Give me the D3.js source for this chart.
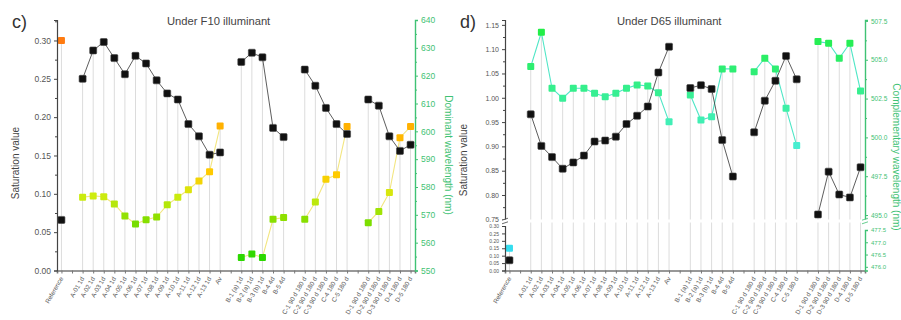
<!DOCTYPE html>
<html>
<head>
<meta charset="utf-8">
<script src="https://cdn.jsdelivr.net/npm/d3@7"></script>
<style>
  body { margin: 0; background: #fff; }
  svg { display: block; font-family: Arial, "Liberation Sans", sans-serif; }
</style>
</head>
<body>
<svg id="chart" width="901" height="320"></svg>
<script>
// Sample slots along the x axis ("" marks a spacer between sample groups)
const categories = [
  "Reference", "",
  "A-01 1d", "A-02 1d", "A-03 1d", "A-04 1d", "A-05 1d", "A-06 1d", "A-07 1d", "A-08 1d",
  "A-09 1d", "A-10 1d", "A-11 1d", "A-12 1d", "A-13 1d", "Av",
  "",
  "B-1 (a) 1d", "B-2 (a) 1d", "B-3 (b) 1d", "B-4 4d", "B-5 4d",
  "",
  "C-1 90 d 180 d", "C-2 90 d 180 d", "C-3 90 d 180 d", "C-4 180 d", "C-5 180 d",
  "",
  "D-1 90 d 180 d", "D-2 90 d 180 d", "D-3 90 d 180 d", "D-4 180 d", "D-5 180 d"
];

// Panel c – F10 illuminant
const satF10 = [0.066, null,
  0.250, 0.287, 0.298, 0.277, 0.256, 0.280, 0.270, 0.248, 0.231, 0.223, 0.191, 0.175, 0.151, 0.154,
  null, 0.272, 0.284, 0.278, 0.186, 0.174,
  null, 0.262, 0.241, 0.212, 0.191, 0.178,
  null, 0.223, 0.215, 0.175, 0.156, 0.164];
const wlF10 = [632.6, null,
  576.3, 576.8, 576.5, 573.9, 569.6, 566.7, 568.2, 569.2, 573.6, 576.3, 579.0, 582.2, 585.5, 601.9,
  null, 554.7, 555.9, 554.7, 568.4, 569.0,
  null, 568.4, 574.6, 582.8, 584.4, 601.7,
  null, 567.2, 571.2, 578.0, 597.7, 601.7];

// Panel d – D65 illuminant
const satD65 = [0.069, null,
  0.966, 0.901, 0.878, 0.854, 0.867, 0.881, 0.910, 0.912, 0.920, 0.946, 0.963, 0.982, 1.052, 1.105,
  null, 1.020, 1.026, 1.018, 0.913, 0.838,
  null, 0.929, 0.994, 1.035, 1.086, 1.038,
  null, 0.760, 0.848, 0.801, 0.795, 0.857];
const wlD65 = [476.76, null,
  504.56, 506.77, 503.16, 502.52, 503.16, 503.16, 502.84, 502.62, 502.84, 503.16, 503.38, 503.31, 502.88, 501.0,
  null, 502.73, 501.12, 501.33, 504.41, 504.41,
  null, 504.23, 505.10, 504.41, 501.87, 499.47,
  null, 506.17, 506.06, 505.10, 506.06, 502.99];

// Axis tick values
const satTicksF10 = [0.00, 0.05, 0.10, 0.15, 0.20, 0.25, 0.30];
const wlTicksF10 = [550, 560, 570, 580, 590, 600, 610, 620, 630, 640];
const satTicksD65Upper = [0.75, 0.80, 0.85, 0.90, 0.95, 1.00, 1.05, 1.10, 1.15];
const satTicksD65Lower = [0.00, 0.05, 0.10, 0.15, 0.20, 0.25, 0.30];
const wlTicksD65Upper = [495.0, 497.5, 500.0, 502.5, 505.0, 507.5];
const wlTicksD65Lower = [476.0, 476.5, 477.0, 477.5];

const svg = d3.select("#chart");
const GREEN = "#3fc274";
const TOP = 20, BOTTOM = 270.5;
const idx = d3.range(categories.length);

// Hue of each wavelength marker
const colF10 = d3.scaleLinear()
  .domain([552, 562, 569, 577, 584, 600, 632])
  .range(["#22d800", "#48d800", "#8ee000", "#d0ec10", "#ffcc00", "#ffb400", "#ff7c10"]);
const colD65 = d3.scaleLinear()
  .domain([476, 499.5, 502, 504, 507])
  .range(["#34dcf0", "#48eed0", "#3cf0a4", "#30ee7a", "#22ee44"]);

function panel(opt) {
  const g = svg.append("g");
  const x = d3.scalePoint().domain(idx).range([opt.x0, opt.x1]).padding(0.42);

  // drop lines from the highest marker down to the axis
  idx.forEach(i => {
    if (opt.sat[i] == null) return;
    const yTop = Math.min(opt.ySat(opt.sat[i]), opt.yWl(opt.wl[i]));
    g.append("line").attr("x1", x(i)).attr("x2", x(i))
      .attr("y1", yTop).attr("y2", BOTTOM)
      .attr("stroke", "#dcdcdc").attr("stroke-width", 1);
  });

  // axis break band
  if (opt.breakY) {
    g.append("rect").attr("x", opt.x0).attr("y", opt.breakY - 1.5)
      .attr("width", opt.x1 - opt.x0).attr("height", 3).attr("fill", "#fff");
  }

  // connecting lines
  const lineSat = d3.line().defined((d, i) => d != null && i > 1)
    .x((d, i) => x(i)).y(d => opt.ySat(d));
  const lineWl = d3.line().defined((d, i) => d != null && i > 1)
    .x((d, i) => x(i)).y(d => opt.yWl(d));
  g.append("path").attr("d", lineWl(opt.wl)).attr("fill", "none")
    .attr("stroke", opt.wlLine).attr("stroke-width", 1.1);
  g.append("path").attr("d", lineSat(opt.sat)).attr("fill", "none")
    .attr("stroke", "#333").attr("stroke-width", 0.8);

  // markers
  const s = 7;
  idx.forEach(i => {
    if (opt.wl[i] != null) {
      g.append("rect").attr("x", x(i) - s / 2).attr("y", opt.yWl(opt.wl[i]) - s / 2)
        .attr("width", s).attr("height", s).attr("rx", 1)
        .attr("fill", opt.col(opt.wl[i]));
    }
    if (opt.sat[i] != null) {
      g.append("rect").attr("x", x(i) - s / 2).attr("y", opt.ySat(opt.sat[i]) - s / 2)
        .attr("width", s).attr("height", s).attr("rx", 1)
        .attr("fill", "#111").attr("stroke", "#444").attr("stroke-width", 0.6);
    }
  });

  // bottom axis
  const xa = g.append("g").attr("transform", `translate(0,${BOTTOM})`)
    .call(d3.axisBottom(x).tickSize(3).tickFormat(""));
  xa.select(".domain").attr("stroke", "#777").attr("stroke-width", 1.6);
  xa.selectAll(".tick line").attr("stroke", "#777");
  g.selectAll(".xlab").data(idx).enter().append("text")
    .attr("transform", i => `translate(${x(i) + 2},${BOTTOM + 8}) rotate(-60)`)
    .attr("text-anchor", "end").attr("font-size", 6.4).attr("fill", "#555")
    .text(i => categories[i]);

  // left + right axes (segments)
  opt.leftAxes.forEach(a => {
    const ag = g.append("g").attr("transform", `translate(${opt.x0},0)`)
      .call(d3.axisLeft(a.scale).tickValues(a.ticks).tickSize(3)
        .tickFormat(d3.format(a.fmt)));
    ag.select(".domain").attr("stroke", "#444").attr("stroke-width", 1.2);
    ag.selectAll(".tick line").attr("stroke", "#444");
    ag.selectAll("text").attr("font-size", a.fs).attr("fill", "#555")
      .attr("font-family", "Arial, 'Liberation Sans', sans-serif");
    if (a.minor) {
      g.append("g").attr("transform", `translate(${opt.x0},0)`)
        .call(d3.axisLeft(a.scale).tickValues(a.minor).tickSize(2).tickFormat(""))
        .call(m => { m.select(".domain").remove(); m.selectAll("line").attr("stroke", "#444"); });
    }
  });
  opt.rightAxes.forEach(a => {
    const ag = g.append("g").attr("transform", `translate(${opt.x1},0)`)
      .call(d3.axisRight(a.scale).tickValues(a.ticks).tickSize(3)
        .tickFormat(d3.format(a.fmt)));
    ag.select(".domain").attr("stroke", GREEN).attr("stroke-width", 1.4);
    ag.selectAll(".tick line").attr("stroke", GREEN);
    ag.selectAll("text").attr("font-size", a.fs).attr("fill", GREEN)
      .attr("font-family", "Arial, 'Liberation Sans', sans-serif");
    if (a.minor) {
      g.append("g").attr("transform", `translate(${opt.x1},0)`)
        .call(d3.axisRight(a.scale).tickValues(a.minor).tickSize(2).tickFormat(""))
        .call(m => { m.select(".domain").remove(); m.selectAll("line").attr("stroke", GREEN); });
    }
  });

  // break marks on the vertical axes
  if (opt.breakY) {
    [[opt.x0, "#444"], [opt.x1, GREEN]].forEach(([bx, c]) => {
      g.append("rect").attr("x", bx - 3).attr("y", opt.breakY - 1.5).attr("width", 6).attr("height", 3).attr("fill", "#fff");
      [-1.8, 1.8].forEach(dy => g.append("line")
        .attr("x1", bx - 3).attr("x2", bx + 3)
        .attr("y1", opt.breakY + dy + 1).attr("y2", opt.breakY + dy - 1)
        .attr("stroke", c).attr("stroke-width", 0.8));
    });
  }

  // titles
  g.append("text").attr("x", opt.x0 - 45).attr("y", 28).attr("font-size", 18)
    .attr("fill", "#333").text(opt.tag);
  g.append("text").attr("x", opt.titleX).attr("y", 25).attr("font-size", 11.2)
    .attr("fill", "#444").text(opt.title);
  g.append("text").attr("transform", `translate(${opt.x0 - 38},${opt.yLabY}) rotate(-90)`)
    .attr("text-anchor", "middle").attr("font-size", 10).attr("fill", "#444")
    .text("Saturation value");
  g.append("text").attr("transform", `translate(${opt.x1 + opt.rLabDx},${opt.rLabY}) rotate(90)`)
    .attr("text-anchor", "middle").attr("font-size", 10).attr("fill", GREEN)
    .text(opt.rLab);
}

// ---- panel c ----
const ySatC = d3.scaleLinear().domain([0, 0.3267]).range([BOTTOM, TOP]);
const yWlC = d3.scaleLinear().domain([550, 640]).range([BOTTOM, TOP]);
panel({
  x0: 57, x1: 415, tag: "c)", title: "Under F10 illuminant", titleX: 167,
  sat: satF10, wl: wlF10, ySat: ySatC, yWl: yWlC, col: colF10, wlLine: "#f3e680",
  yLabY: 163, rLabY: 155, rLabDx: 30, rLab: "Dominant wavelength (nm)",
  leftAxes: [{ scale: ySatC, ticks: satTicksF10, fmt: ".2f", fs: 8.5,
    minor: d3.range(0.025, 0.33, 0.05) }],
  rightAxes: [{ scale: yWlC, ticks: wlTicksF10, fmt: "d", fs: 8.5,
    minor: d3.range(555, 640, 10) }]
});

// ---- panel d (broken axes) ----
const BREAK = 221;
const ySatDU = d3.scaleLinear().domain([0.75, 1.160]).range([219.3, TOP]);
const ySatDL = d3.scaleLinear().domain([0, 0.30]).range([BOTTOM, 226]);
const yWlDU = d3.scaleLinear().domain([494.68, 507.56]).range([220, TOP]);
const yWlDL = d3.scaleLinear().domain([475.85, 477.5]).range([BOTTOM, 230]);
panel({
  x0: 505, x1: 865, tag: "d)", title: "Under D65 illuminant", titleX: 617,
  sat: satD65, wl: wlD65,
  ySat: v => (v >= 0.5 ? ySatDU(v) : ySatDL(v)),
  yWl: v => (v >= 490 ? yWlDU(v) : yWlDL(v)),
  col: colD65, wlLine: "#4fe6c6", breakY: BREAK,
  yLabY: 160, rLabY: 157, rLabDx: 28, rLab: "Complementary wavelength (nm)",
  leftAxes: [
    { scale: ySatDU, ticks: satTicksD65Upper, fmt: ".2f", fs: 7,
      minor: d3.range(0.775, 1.16, 0.05) },
    { scale: ySatDL, ticks: satTicksD65Lower, fmt: ".2f", fs: 5 }
  ],
  rightAxes: [
    { scale: yWlDU, ticks: wlTicksD65Upper, fmt: ".1f", fs: 6.5,
      minor: d3.range(496.25, 507.5, 2.5) },
    { scale: yWlDL, ticks: wlTicksD65Lower, fmt: ".1f", fs: 6 }
  ]
});
</script>
</body>
</html>
